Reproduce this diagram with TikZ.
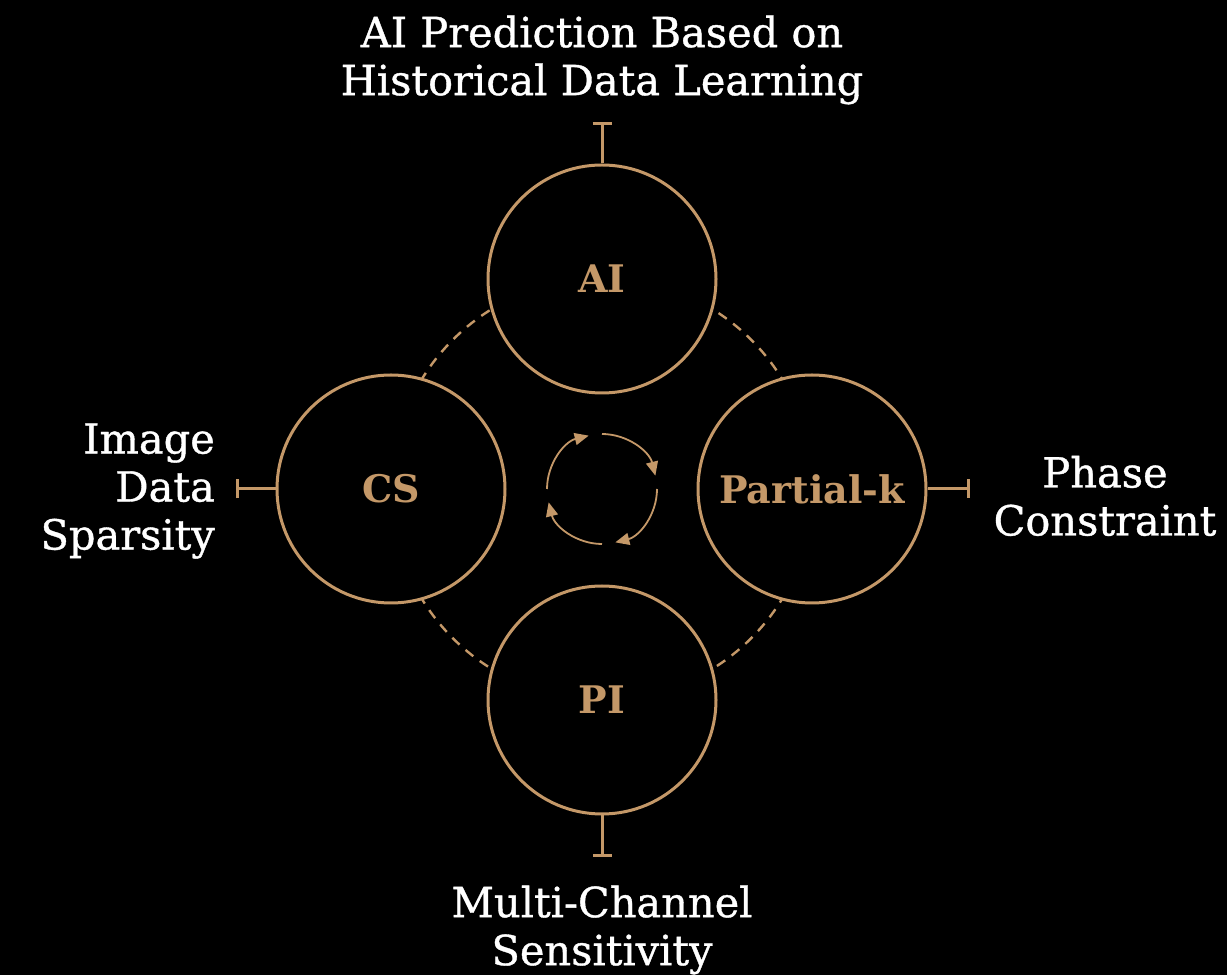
\documentclass[tikz,border=0pt]{standalone}
\usepackage{fontspec}
\setmainfont{DejaVu Serif}
\newfontfamily\labelface{DejaVu Serif}[FakeBold=0.9]
\usetikzlibrary{arrows.meta}
\definecolor{gold}{RGB}{196,152,104}
\begin{document}
\begin{tikzpicture}[x=1pt,y=1pt,
  ring/.style={circle, draw=gold, line width=3pt, fill=black, minimum size=228pt,
    inner sep=0pt, text=gold, font=\fontsize{38}{44}\selectfont\bfseries},
  note/.style={text=white, font=\labelface\fontsize{41.5}{48}\selectfont, inner sep=0pt},
  tee/.style={draw=gold, line width=3pt, -{Bar[width=19pt,line width=3pt]}},
  cyc/.style={draw=gold, line width=1.8pt, -{Triangle[length=14pt,width=12pt]}}]
\fill[black] (0,0) rectangle (1227,975);
\coordinate (c) at (602,486);
% dashed orbit through the four centres
\draw[gold, line width=2.4pt, dash pattern=on 10pt off 8pt] (c) circle[radius=211pt];
% the four methods
\node[ring] (ai) at (602,696) {AI};
\node[ring] (cs) at (391,486) {CS};
\node[ring] (pk) at (812,486) {Partial-k};
\node[ring] (pi) at (602,275) {PI};
% tee connectors
\coordinate (tai) at (602,853);
\coordinate (tcs) at (236,486);
\coordinate (tpk) at (970,486);
\coordinate (tpi) at (602,118);
\draw[tee] (ai.north) -- (tai);
\draw[tee] (cs.west) -- (tcs);
\draw[tee] (pk.east) -- (tpk);
\draw[tee] (pi.south) -- (tpi);
% labels
\node[note, align=center] (lai) at (602,915) {AI Prediction Based on\\Historical Data Learning};
\node[note, align=right, anchor=east] (lcs) at (215,484) {Image\\Data\\Sparsity};
\node[note, align=center] (lpk) at (1105,479) {Phase\\Constraint};
\node[note, align=center] (lpi) at (602,45) {Multi-Channel\\Sensitivity};
% central cycle
\foreach \a in {90,0,-90,-180}{
  \draw[cyc] (c) ++(\a:55pt) arc[start angle=\a, end angle=\a-76, radius=55pt];
}
\end{tikzpicture}
\end{document}
